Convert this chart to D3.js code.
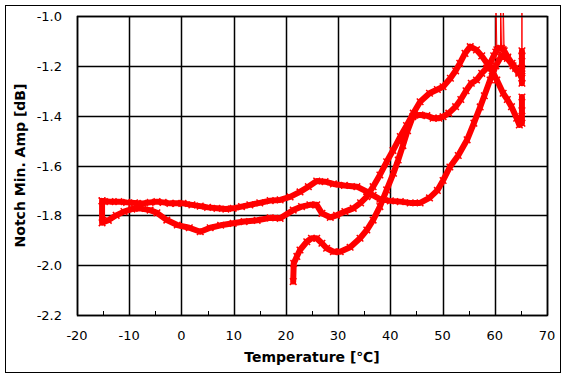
<!DOCTYPE html>
<html>
<head>
<meta charset="utf-8">
<script src="https://cdn.jsdelivr.net/npm/d3@7"></script>
<style>
  body { margin: 0; background: #fff; }
  svg { display: block; }
  .tick-label { font-family: "DejaVu Sans", sans-serif; font-size: 13px; fill: #000; }
  .axis-title { font-family: "DejaVu Sans", sans-serif; font-size: 14px; font-weight: bold; fill: #000; }
</style>
</head>
<body>
<svg class="chart"></svg>
<script>

// tick values
let xTicks = [-20, -10, 0, 10, 20, 30, 40, 50, 60, 70]
let yTicks = [-2.2, -2.0, -1.8, -1.6, -1.4, -1.2, -1.0]
let xMinor = [-15, -5, 5, 15, 25, 35, 45, 55, 65]

// first heating: from room temp up to 65 C
let heat1T = [21.4, 21.5, 22.1, 22.7, 24.0, 24.9, 25.9, 26.9, 27.8, 29.1, 30.4, 32.3, 34.2, 35.5, 36.7, 38.0, 39.3, 40.6, 41.5,
  42.4, 43.3, 44.3, 45.7, 47.0, 48.2, 49.3, 50.1, 51.2, 52.5, 53.5, 54.5, 55.5, 56.5, 57.5, 58.4, 59.1, 59.8,
  60.2, 60.2, 60.4, 60.8, 61.1, 61.1, 61.3, 61.6, 61.6, 61.8, 62.5, 63.3, 64.0, 64.6,
  65.2, 65.2, 65.2, 65.2, 65.2, 65.2, 65.2]
let heat1A = [-2.066, -1.993, -1.965, -1.939, -1.906, -1.892, -1.892, -1.912, -1.932, -1.946, -1.946, -1.928, -1.892, -1.859, -1.819, -1.765, -1.698, -1.631, -1.578,
  -1.52, -1.46, -1.404, -1.397, -1.40, -1.41, -1.41, -1.404, -1.39, -1.364, -1.335, -1.30, -1.27, -1.257, -1.23, -1.21, -1.19, -1.16,
  -1.145, -0.9, -1.136, -1.13, -1.13, -0.9, -1.13, -1.135, -0.9, -1.14, -1.165, -1.19, -1.21, -1.225,
  -1.25, -1.27, -1.22, -0.9, -1.14, -1.16, -1.21]

// cooling: 65 C down to -15 C
let cool1T = [64.6, 63.5, 62.4, 61.3, 60.2, 59.1, 58.0, 57.2, 56.0, 54.7, 53.0, 51.4, 50.1, 49.0, 47.5, 45.7, 43.8, 41.9, 40.0,
  38.0, 36.7, 35.5, 33.6, 31.2, 29.1, 27.5, 25.9, 24.3, 22.7, 20.8, 18.9, 17.0, 15.0, 13.1, 11.5, 9.9, 8.5, 6.8, 5.0, 3.6, 2.0, 0.3,
  -1.0, -2.2, -3.5, -4.7, -6.0, -7.4, -9.0, -10.5, -12.0, -13.7, -15.2]
let cool1A = [-1.23, -1.20, -1.17, -1.16, -1.20, -1.257, -1.32, -1.365, -1.43, -1.497, -1.56, -1.606, -1.66, -1.70, -1.73, -1.75, -1.75, -1.745, -1.742,
  -1.735, -1.72, -1.705, -1.685, -1.68, -1.674, -1.665, -1.662, -1.685, -1.706, -1.726, -1.738, -1.741, -1.75, -1.758, -1.765, -1.772, -1.775, -1.772, -1.768, -1.763, -1.758, -1.752,
  -1.752, -1.752, -1.748, -1.745, -1.748, -1.752, -1.75, -1.748, -1.745, -1.745, -1.742]

// second heating: -15 C back up to 65 C
let heat2T = [-15.2, -15.2, -14.0, -12.5, -11.0, -9.5, -8.0, -6.0, -4.7, -2.8, -0.8, 1.5, 3.6, 5.5, 7.5, 9.9, 12.0, 14.5, 17.0, 18.9, 21.4,
  23.0, 24.6, 25.9, 26.9, 28.5, 29.7, 31.3, 32.9, 34.3, 35.5, 36.7, 38.0, 39.3, 40.5, 41.9, 43.1, 44.4, 45.7, 47.5, 49.0, 50.1, 51.5, 52.5,
  53.3, 54.3, 55.3, 56.5, 57.5, 58.5, 59.5, 60.4, 61.6, 62.4, 63.2, 64.2, 64.7, 65.2, 65.2, 65.2]
let heat2A = [-1.742, -1.83, -1.82, -1.80, -1.785, -1.775, -1.772, -1.779, -1.79, -1.819, -1.839, -1.85, -1.866, -1.85, -1.84, -1.832, -1.825, -1.82, -1.81, -1.812, -1.779,
  -1.765, -1.758, -1.758, -1.792, -1.808, -1.80, -1.785, -1.772, -1.75, -1.725, -1.685, -1.638, -1.585, -1.54, -1.484, -1.44, -1.39, -1.344, -1.31, -1.295, -1.284, -1.25, -1.22,
  -1.19, -1.15, -1.123, -1.136, -1.16, -1.19, -1.22, -1.257, -1.31, -1.335, -1.364, -1.41, -1.437, -1.43, -1.38, -1.325]

let temps = heat1T.concat(cool1T, heat2T)
let amps = heat1A.concat(cool1A, heat2A)
let data = temps.map(function(t, i) { return { temp: t, amp: amps[i] } })

let width = 567
let height = 377
let plot = { left: 77, top: 16, right: 547, bottom: 315 }

let x = d3.scaleLinear().domain([-20, 70]).range([plot.left, plot.right])
let y = d3.scaleLinear().domain([-2.2, -1.0]).range([plot.bottom, plot.top])

let svg = d3.select(".chart")
    .attr("width", width)
    .attr("height", height)

// outer frame
svg.append("rect")
    .attr("x", 5.5)
    .attr("y", 5.5)
    .attr("width", 555)
    .attr("height", 367)
    .attr("fill", "#fff")
    .attr("stroke", "#000")
    .attr("stroke-width", 1)

svg.append("defs").append("clipPath")
    .attr("id", "plotClip")
  .append("rect")
    .attr("x", plot.left)
    .attr("y", plot.top - 3)
    .attr("width", plot.right - plot.left)
    .attr("height", plot.bottom - plot.top + 3)

// grid
let grid = svg.append("g")
grid.selectAll(".vgrid")
    .data(xTicks)
  .enter().append("line")
    .attr("x1", function(d) { return Math.round(x(d)) + 0.5 })
    .attr("x2", function(d) { return Math.round(x(d)) + 0.5 })
    .attr("y1", plot.top)
    .attr("y2", plot.bottom)
    .attr("stroke", "#000")
    .attr("stroke-width", 1.5)

grid.selectAll(".hgrid")
    .data(yTicks)
  .enter().append("line")
    .attr("x1", plot.left)
    .attr("x2", plot.right)
    .attr("y1", function(d) { return Math.round(y(d)) + 0.5 })
    .attr("y2", function(d) { return Math.round(y(d)) + 0.5 })
    .attr("stroke", "#000")
    .attr("stroke-width", 1.5)

grid.selectAll(".minor")
    .data(xMinor)
  .enter().append("line")
    .attr("x1", function(d) { return Math.round(x(d)) + 0.5 })
    .attr("x2", function(d) { return Math.round(x(d)) + 0.5 })
    .attr("y1", plot.bottom - 4)
    .attr("y2", plot.bottom)
    .attr("stroke", "#000")
    .attr("stroke-width", 1)

// tick labels
svg.selectAll(".xlab")
    .data(xTicks)
  .enter().append("text")
    .attr("class", "tick-label")
    .attr("x", function(d) { return x(d) })
    .attr("y", 340)
    .attr("text-anchor", "middle")
    .text(function(d) { return d })

svg.selectAll(".ylab")
    .data(yTicks)
  .enter().append("text")
    .attr("class", "tick-label")
    .attr("x", 62)
    .attr("y", function(d) { return y(d) + 5 })
    .attr("text-anchor", "end")
    .text(function(d) { return d.toFixed(1) })

// series
let series = svg.append("g").attr("clip-path", "url(#plotClip)")

let line = d3.line()
    .x(function(d) { return x(d.temp) })
    .y(function(d) { return y(d.amp) })

series.append("path")
    .datum(data.filter(function(d) { return d.amp <= -1.0 }))
    .attr("d", line)
    .attr("fill", "none")
    .attr("stroke", "#ff0000")
    .attr("stroke-width", 6)
    .attr("stroke-linejoin", "round")
    .attr("stroke-linecap", "round")

series.append("path")
    .datum(data)
    .attr("d", line)
    .attr("fill", "none")
    .attr("stroke", "#ff0000")
    .attr("stroke-width", 1)

let cross = d3.symbol().type(d3.symbolX).size(30)
series.selectAll(".pt")
    .data(data)
  .enter().append("path")
    .attr("transform", function(d) { return "translate(" + x(d.temp) + "," + y(d.amp) + ")" })
    .attr("d", cross)
    .attr("fill", "none")
    .attr("stroke", "#ff0000")
    .attr("stroke-width", 1.5)

// plot border
svg.append("rect")
    .attr("x", plot.left + 0.5)
    .attr("y", plot.top + 0.5)
    .attr("width", plot.right - plot.left)
    .attr("height", plot.bottom - plot.top)
    .attr("fill", "none")
    .attr("stroke", "#000")
    .attr("stroke-width", 1.5)

// axis titles
svg.append("text")
    .attr("class", "axis-title")
    .attr("x", (plot.left + plot.right) / 2)
    .attr("y", 362)
    .attr("text-anchor", "middle")
    .text("Temperature [℃]")

svg.append("text")
    .attr("class", "axis-title")
    .attr("transform", "translate(25," + (plot.top + plot.bottom) / 2 + ") rotate(-90)")
    .attr("text-anchor", "middle")
    .text("Notch Min. Amp [dB]")

</script>
</body>
</html>
